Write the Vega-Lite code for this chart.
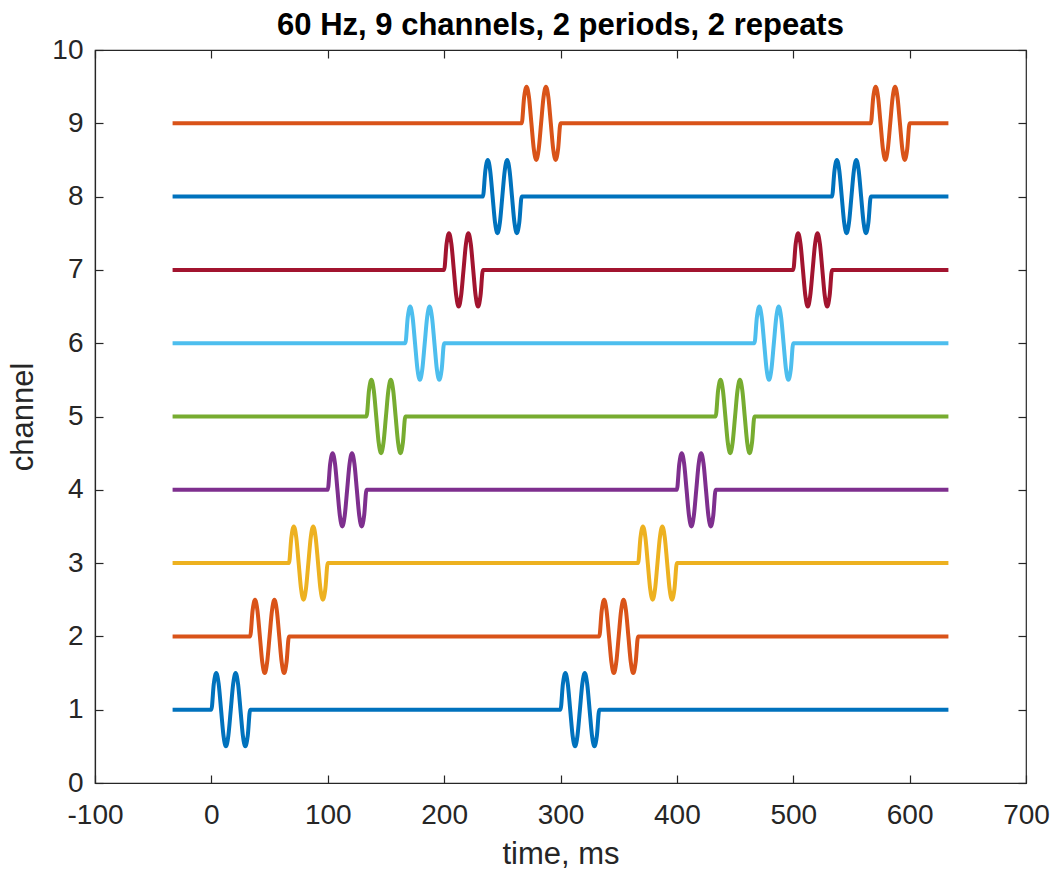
{
  "$schema": "https://vega.github.io/schema/vega-lite/v6.json",
  "autosize": "none",
  "width": 931,
  "height": 733,
  "padding": {"left": 95, "top": 50, "right": 27, "bottom": 88},
  "background": "white",
  "title": {"text": "60 Hz, 9 channels, 2 periods, 2 repeats", "font": "Liberation Sans", "fontSize": 31, "fontWeight": "bold", "color": "#000000", "offset": -30, "baseline": "alphabetic", "anchor": "middle"},
  "config": {
    "view": {"stroke": "#262626", "strokeWidth": 1.2},
    "axis": {"grid": false, "labelFont": "Liberation Sans", "labelFontSize": 28, "labelColor": "#262626", "titleFont": "Liberation Sans", "titleFontSize": 31, "titleFontWeight": "normal", "titleColor": "#262626", "tickColor": "#262626", "domainColor": "#262626", "tickWidth": 1.2, "domainWidth": 1.2, "tickSize": -8, "labelFlush": false, "labelOverlap": false, "labelExpr": "replace(datum.label, '−', '-')"}
  },
  "data": {"values": [
    {"c":1,"t":-33.33,"y":1},
    {"c":1,"t":0,"y":1},{"c":1,"t":2.08,"y":1.354},{"c":1,"t":4.17,"y":1.5},{"c":1,"t":6.25,"y":1.354},{"c":1,"t":8.33,"y":1},{"c":1,"t":10.42,"y":0.646},{"c":1,"t":12.5,"y":0.5},{"c":1,"t":14.58,"y":0.646},{"c":1,"t":16.67,"y":1},{"c":1,"t":18.75,"y":1.354},{"c":1,"t":20.83,"y":1.5},{"c":1,"t":22.92,"y":1.354},{"c":1,"t":25,"y":1},{"c":1,"t":27.08,"y":0.646},{"c":1,"t":29.17,"y":0.5},{"c":1,"t":31.25,"y":0.646},{"c":1,"t":33.33,"y":1},
    {"c":1,"t":300,"y":1},{"c":1,"t":302.08,"y":1.354},{"c":1,"t":304.17,"y":1.5},{"c":1,"t":306.25,"y":1.354},{"c":1,"t":308.33,"y":1},{"c":1,"t":310.42,"y":0.646},{"c":1,"t":312.5,"y":0.5},{"c":1,"t":314.58,"y":0.646},{"c":1,"t":316.67,"y":1},{"c":1,"t":318.75,"y":1.354},{"c":1,"t":320.83,"y":1.5},{"c":1,"t":322.92,"y":1.354},{"c":1,"t":325,"y":1},{"c":1,"t":327.08,"y":0.646},{"c":1,"t":329.17,"y":0.5},{"c":1,"t":331.25,"y":0.646},{"c":1,"t":333.33,"y":1},
    {"c":1,"t":633.33,"y":1},

    {"c":2,"t":-33.33,"y":2},
    {"c":2,"t":33.33,"y":2},{"c":2,"t":35.42,"y":2.354},{"c":2,"t":37.5,"y":2.5},{"c":2,"t":39.58,"y":2.354},{"c":2,"t":41.67,"y":2},{"c":2,"t":43.75,"y":1.646},{"c":2,"t":45.83,"y":1.5},{"c":2,"t":47.92,"y":1.646},{"c":2,"t":50,"y":2},{"c":2,"t":52.08,"y":2.354},{"c":2,"t":54.17,"y":2.5},{"c":2,"t":56.25,"y":2.354},{"c":2,"t":58.33,"y":2},{"c":2,"t":60.42,"y":1.646},{"c":2,"t":62.5,"y":1.5},{"c":2,"t":64.58,"y":1.646},{"c":2,"t":66.67,"y":2},
    {"c":2,"t":333.33,"y":2},{"c":2,"t":335.42,"y":2.354},{"c":2,"t":337.5,"y":2.5},{"c":2,"t":339.58,"y":2.354},{"c":2,"t":341.67,"y":2},{"c":2,"t":343.75,"y":1.646},{"c":2,"t":345.83,"y":1.5},{"c":2,"t":347.92,"y":1.646},{"c":2,"t":350,"y":2},{"c":2,"t":352.08,"y":2.354},{"c":2,"t":354.17,"y":2.5},{"c":2,"t":356.25,"y":2.354},{"c":2,"t":358.33,"y":2},{"c":2,"t":360.42,"y":1.646},{"c":2,"t":362.5,"y":1.5},{"c":2,"t":364.58,"y":1.646},{"c":2,"t":366.67,"y":2},
    {"c":2,"t":633.33,"y":2},

    {"c":3,"t":-33.33,"y":3},
    {"c":3,"t":66.67,"y":3},{"c":3,"t":68.75,"y":3.354},{"c":3,"t":70.83,"y":3.5},{"c":3,"t":72.92,"y":3.354},{"c":3,"t":75,"y":3},{"c":3,"t":77.08,"y":2.646},{"c":3,"t":79.17,"y":2.5},{"c":3,"t":81.25,"y":2.646},{"c":3,"t":83.33,"y":3},{"c":3,"t":85.42,"y":3.354},{"c":3,"t":87.5,"y":3.5},{"c":3,"t":89.58,"y":3.354},{"c":3,"t":91.67,"y":3},{"c":3,"t":93.75,"y":2.646},{"c":3,"t":95.83,"y":2.5},{"c":3,"t":97.92,"y":2.646},{"c":3,"t":100,"y":3},
    {"c":3,"t":366.67,"y":3},{"c":3,"t":368.75,"y":3.354},{"c":3,"t":370.83,"y":3.5},{"c":3,"t":372.92,"y":3.354},{"c":3,"t":375,"y":3},{"c":3,"t":377.08,"y":2.646},{"c":3,"t":379.17,"y":2.5},{"c":3,"t":381.25,"y":2.646},{"c":3,"t":383.33,"y":3},{"c":3,"t":385.42,"y":3.354},{"c":3,"t":387.5,"y":3.5},{"c":3,"t":389.58,"y":3.354},{"c":3,"t":391.67,"y":3},{"c":3,"t":393.75,"y":2.646},{"c":3,"t":395.83,"y":2.5},{"c":3,"t":397.92,"y":2.646},{"c":3,"t":400,"y":3},
    {"c":3,"t":633.33,"y":3},

    {"c":4,"t":-33.33,"y":4},
    {"c":4,"t":100,"y":4},{"c":4,"t":102.08,"y":4.354},{"c":4,"t":104.17,"y":4.5},{"c":4,"t":106.25,"y":4.354},{"c":4,"t":108.33,"y":4},{"c":4,"t":110.42,"y":3.646},{"c":4,"t":112.5,"y":3.5},{"c":4,"t":114.58,"y":3.646},{"c":4,"t":116.67,"y":4},{"c":4,"t":118.75,"y":4.354},{"c":4,"t":120.83,"y":4.5},{"c":4,"t":122.92,"y":4.354},{"c":4,"t":125,"y":4},{"c":4,"t":127.08,"y":3.646},{"c":4,"t":129.17,"y":3.5},{"c":4,"t":131.25,"y":3.646},{"c":4,"t":133.33,"y":4},
    {"c":4,"t":400,"y":4},{"c":4,"t":402.08,"y":4.354},{"c":4,"t":404.17,"y":4.5},{"c":4,"t":406.25,"y":4.354},{"c":4,"t":408.33,"y":4},{"c":4,"t":410.42,"y":3.646},{"c":4,"t":412.5,"y":3.5},{"c":4,"t":414.58,"y":3.646},{"c":4,"t":416.67,"y":4},{"c":4,"t":418.75,"y":4.354},{"c":4,"t":420.83,"y":4.5},{"c":4,"t":422.92,"y":4.354},{"c":4,"t":425,"y":4},{"c":4,"t":427.08,"y":3.646},{"c":4,"t":429.17,"y":3.5},{"c":4,"t":431.25,"y":3.646},{"c":4,"t":433.33,"y":4},
    {"c":4,"t":633.33,"y":4},

    {"c":5,"t":-33.33,"y":5},
    {"c":5,"t":133.33,"y":5},{"c":5,"t":135.42,"y":5.354},{"c":5,"t":137.5,"y":5.5},{"c":5,"t":139.58,"y":5.354},{"c":5,"t":141.67,"y":5},{"c":5,"t":143.75,"y":4.646},{"c":5,"t":145.83,"y":4.5},{"c":5,"t":147.92,"y":4.646},{"c":5,"t":150,"y":5},{"c":5,"t":152.08,"y":5.354},{"c":5,"t":154.17,"y":5.5},{"c":5,"t":156.25,"y":5.354},{"c":5,"t":158.33,"y":5},{"c":5,"t":160.42,"y":4.646},{"c":5,"t":162.5,"y":4.5},{"c":5,"t":164.58,"y":4.646},{"c":5,"t":166.67,"y":5},
    {"c":5,"t":433.33,"y":5},{"c":5,"t":435.42,"y":5.354},{"c":5,"t":437.5,"y":5.5},{"c":5,"t":439.58,"y":5.354},{"c":5,"t":441.67,"y":5},{"c":5,"t":443.75,"y":4.646},{"c":5,"t":445.83,"y":4.5},{"c":5,"t":447.92,"y":4.646},{"c":5,"t":450,"y":5},{"c":5,"t":452.08,"y":5.354},{"c":5,"t":454.17,"y":5.5},{"c":5,"t":456.25,"y":5.354},{"c":5,"t":458.33,"y":5},{"c":5,"t":460.42,"y":4.646},{"c":5,"t":462.5,"y":4.5},{"c":5,"t":464.58,"y":4.646},{"c":5,"t":466.67,"y":5},
    {"c":5,"t":633.33,"y":5},

    {"c":6,"t":-33.33,"y":6},
    {"c":6,"t":166.67,"y":6},{"c":6,"t":168.75,"y":6.354},{"c":6,"t":170.83,"y":6.5},{"c":6,"t":172.92,"y":6.354},{"c":6,"t":175,"y":6},{"c":6,"t":177.08,"y":5.646},{"c":6,"t":179.17,"y":5.5},{"c":6,"t":181.25,"y":5.646},{"c":6,"t":183.33,"y":6},{"c":6,"t":185.42,"y":6.354},{"c":6,"t":187.5,"y":6.5},{"c":6,"t":189.58,"y":6.354},{"c":6,"t":191.67,"y":6},{"c":6,"t":193.75,"y":5.646},{"c":6,"t":195.83,"y":5.5},{"c":6,"t":197.92,"y":5.646},{"c":6,"t":200,"y":6},
    {"c":6,"t":466.67,"y":6},{"c":6,"t":468.75,"y":6.354},{"c":6,"t":470.83,"y":6.5},{"c":6,"t":472.92,"y":6.354},{"c":6,"t":475,"y":6},{"c":6,"t":477.08,"y":5.646},{"c":6,"t":479.17,"y":5.5},{"c":6,"t":481.25,"y":5.646},{"c":6,"t":483.33,"y":6},{"c":6,"t":485.42,"y":6.354},{"c":6,"t":487.5,"y":6.5},{"c":6,"t":489.58,"y":6.354},{"c":6,"t":491.67,"y":6},{"c":6,"t":493.75,"y":5.646},{"c":6,"t":495.83,"y":5.5},{"c":6,"t":497.92,"y":5.646},{"c":6,"t":500,"y":6},
    {"c":6,"t":633.33,"y":6},

    {"c":7,"t":-33.33,"y":7},
    {"c":7,"t":200,"y":7},{"c":7,"t":202.08,"y":7.354},{"c":7,"t":204.17,"y":7.5},{"c":7,"t":206.25,"y":7.354},{"c":7,"t":208.33,"y":7},{"c":7,"t":210.42,"y":6.646},{"c":7,"t":212.5,"y":6.5},{"c":7,"t":214.58,"y":6.646},{"c":7,"t":216.67,"y":7},{"c":7,"t":218.75,"y":7.354},{"c":7,"t":220.83,"y":7.5},{"c":7,"t":222.92,"y":7.354},{"c":7,"t":225,"y":7},{"c":7,"t":227.08,"y":6.646},{"c":7,"t":229.17,"y":6.5},{"c":7,"t":231.25,"y":6.646},{"c":7,"t":233.33,"y":7},
    {"c":7,"t":500,"y":7},{"c":7,"t":502.08,"y":7.354},{"c":7,"t":504.17,"y":7.5},{"c":7,"t":506.25,"y":7.354},{"c":7,"t":508.33,"y":7},{"c":7,"t":510.42,"y":6.646},{"c":7,"t":512.5,"y":6.5},{"c":7,"t":514.58,"y":6.646},{"c":7,"t":516.67,"y":7},{"c":7,"t":518.75,"y":7.354},{"c":7,"t":520.83,"y":7.5},{"c":7,"t":522.92,"y":7.354},{"c":7,"t":525,"y":7},{"c":7,"t":527.08,"y":6.646},{"c":7,"t":529.17,"y":6.5},{"c":7,"t":531.25,"y":6.646},{"c":7,"t":533.33,"y":7},
    {"c":7,"t":633.33,"y":7},

    {"c":8,"t":-33.33,"y":8},
    {"c":8,"t":233.33,"y":8},{"c":8,"t":235.42,"y":8.354},{"c":8,"t":237.5,"y":8.5},{"c":8,"t":239.58,"y":8.354},{"c":8,"t":241.67,"y":8},{"c":8,"t":243.75,"y":7.646},{"c":8,"t":245.83,"y":7.5},{"c":8,"t":247.92,"y":7.646},{"c":8,"t":250,"y":8},{"c":8,"t":252.08,"y":8.354},{"c":8,"t":254.17,"y":8.5},{"c":8,"t":256.25,"y":8.354},{"c":8,"t":258.33,"y":8},{"c":8,"t":260.42,"y":7.646},{"c":8,"t":262.5,"y":7.5},{"c":8,"t":264.58,"y":7.646},{"c":8,"t":266.67,"y":8},
    {"c":8,"t":533.33,"y":8},{"c":8,"t":535.42,"y":8.354},{"c":8,"t":537.5,"y":8.5},{"c":8,"t":539.58,"y":8.354},{"c":8,"t":541.67,"y":8},{"c":8,"t":543.75,"y":7.646},{"c":8,"t":545.83,"y":7.5},{"c":8,"t":547.92,"y":7.646},{"c":8,"t":550,"y":8},{"c":8,"t":552.08,"y":8.354},{"c":8,"t":554.17,"y":8.5},{"c":8,"t":556.25,"y":8.354},{"c":8,"t":558.33,"y":8},{"c":8,"t":560.42,"y":7.646},{"c":8,"t":562.5,"y":7.5},{"c":8,"t":564.58,"y":7.646},{"c":8,"t":566.67,"y":8},
    {"c":8,"t":633.33,"y":8},

    {"c":9,"t":-33.33,"y":9},
    {"c":9,"t":266.67,"y":9},{"c":9,"t":268.75,"y":9.354},{"c":9,"t":270.83,"y":9.5},{"c":9,"t":272.92,"y":9.354},{"c":9,"t":275,"y":9},{"c":9,"t":277.08,"y":8.646},{"c":9,"t":279.17,"y":8.5},{"c":9,"t":281.25,"y":8.646},{"c":9,"t":283.33,"y":9},{"c":9,"t":285.42,"y":9.354},{"c":9,"t":287.5,"y":9.5},{"c":9,"t":289.58,"y":9.354},{"c":9,"t":291.67,"y":9},{"c":9,"t":293.75,"y":8.646},{"c":9,"t":295.83,"y":8.5},{"c":9,"t":297.92,"y":8.646},{"c":9,"t":300,"y":9},
    {"c":9,"t":566.67,"y":9},{"c":9,"t":568.75,"y":9.354},{"c":9,"t":570.83,"y":9.5},{"c":9,"t":572.92,"y":9.354},{"c":9,"t":575,"y":9},{"c":9,"t":577.08,"y":8.646},{"c":9,"t":579.17,"y":8.5},{"c":9,"t":581.25,"y":8.646},{"c":9,"t":583.33,"y":9},{"c":9,"t":585.42,"y":9.354},{"c":9,"t":587.5,"y":9.5},{"c":9,"t":589.58,"y":9.354},{"c":9,"t":591.67,"y":9},{"c":9,"t":593.75,"y":8.646},{"c":9,"t":595.83,"y":8.5},{"c":9,"t":597.92,"y":8.646},{"c":9,"t":600,"y":9},
    {"c":9,"t":633.33,"y":9}
  ]},
  "layer": [
    {
      "mark": {"type": "line", "strokeWidth": 4, "interpolate": "monotone", "strokeJoin": "round"},
      "encoding": {
        "x": {"field": "t", "type": "quantitative", "scale": {"domain": [-100, 700], "nice": false, "zero": false},
              "axis": {"orient": "bottom", "title": "time, ms", "values": [-100, 0, 100, 200, 300, 400, 500, 600, 700], "labelPadding": 26, "titlePadding": 10}},
        "y": {"field": "y", "type": "quantitative", "scale": {"domain": [0, 10], "nice": false, "zero": false},
              "axis": {"orient": "left", "title": "channel", "values": [0, 1, 2, 3, 4, 5, 6, 7, 8, 9, 10], "labelPadding": 20, "titlePadding": 12}},
        "color": {"field": "c", "type": "nominal", "legend": null,
                  "scale": {"domain": [1, 2, 3, 4, 5, 6, 7, 8, 9], "range": ["#0072BD", "#D95319", "#EDB120", "#7E2F8E", "#77AC30", "#4DBEEE", "#A2142F", "#0072BD", "#D95319"]}}
      }
    },
    {
      "mark": {"type": "line", "opacity": 0},
      "encoding": {
        "x": {"field": "t", "type": "quantitative", "scale": {"domain": [-100, 700], "nice": false, "zero": false},
              "axis": {"orient": "top", "title": null, "labels": false, "domain": false, "minExtent": 0, "values": [-100, 0, 100, 200, 300, 400, 500, 600, 700]}},
        "y": {"field": "y", "type": "quantitative", "scale": {"domain": [0, 10], "nice": false, "zero": false},
              "axis": {"orient": "right", "title": null, "labels": false, "domain": false, "minExtent": 0, "values": [0, 1, 2, 3, 4, 5, 6, 7, 8, 9, 10]}},
        "detail": {"field": "c", "type": "nominal"}
      }
    }
  ],
  "resolve": {"axis": {"x": "independent", "y": "independent"}}
}
